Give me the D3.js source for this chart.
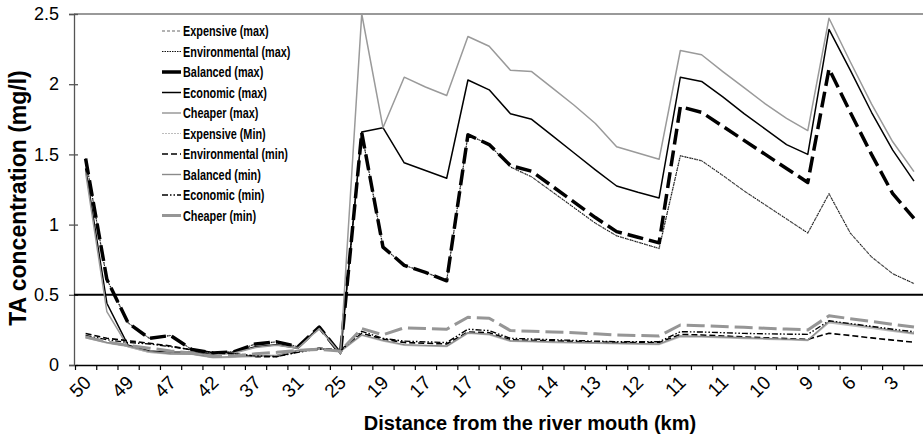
<!DOCTYPE html>
<html>
<head>
<meta charset="utf-8">
<script src="https://cdn.jsdelivr.net/npm/d3@7"></script>
<style>
  body { margin: 0; background: #fff; }
  svg { display: block; font-family: Arial, "Liberation Sans", sans-serif; }
</style>
</head>
<body>
<svg width="923" height="437"></svg>
<script>
// distance labels (only every other one is printed on the axis)
const distances = ['50','50','49','48','47','44','42','40','37','34','31','28','25','22','19','18','17','17','17','16',
                   '16','15','14','14','13','12','12','11','11','11','11','10','10','9','9','7','6','4','3','2'];
const yTicks = [0, 0.5, 1, 1.5, 2, 2.5];
const limit = 0.5;

const seriesNames = ['Expensive (max)', 'Environmental (max)', 'Balanced (max)', 'Economic (max)', 'Cheaper (max)',
                     'Expensive (Min)', 'Environmental (min)', 'Balanced (min)', 'Economic (min)', 'Cheaper (min)'];

const envMax = [1.47,0.61,0.30,0.19,0.21,0.11,0.085,0.095,0.15,0.165,0.13,0.27,0.08,
                1.655,0.84,0.71,0.66,0.60,1.64,1.57,1.41,1.34,1.23,1.12,1.01,0.92,0.875,0.83,
                1.49,1.455,1.35,1.24,1.14,1.04,0.94,1.22,0.94,0.77,0.65,0.58];
const expMax = envMax.slice();
const balMax = [1.47,0.61,0.30,0.19,0.21,0.11,0.085,0.095,0.15,0.165,0.13,0.27,0.08,
                1.655,0.84,0.71,0.66,0.60,1.64,1.57,1.42,1.38,1.27,1.16,1.05,0.95,0.91,0.87,
                1.84,1.80,1.70,1.60,1.50,1.40,1.30,2.11,1.80,1.50,1.22,1.045];
const ecoMax = [1.40,0.44,0.14,0.10,0.09,0.09,0.075,0.09,0.13,0.145,0.12,0.27,0.08,
                1.66,1.69,1.44,1.385,1.33,2.03,1.96,1.79,1.75,1.63,1.51,1.39,1.275,1.23,1.19,
                2.05,2.02,1.91,1.79,1.68,1.57,1.50,2.39,2.10,1.80,1.53,1.31];
const cheMax = [1.37,0.38,0.13,0.09,0.085,0.085,0.07,0.085,0.125,0.14,0.12,0.26,0.08,
                2.50,1.69,2.05,1.98,1.92,2.34,2.27,2.10,2.09,1.97,1.85,1.72,1.555,1.51,1.465,
                2.24,2.21,2.09,1.975,1.86,1.757,1.67,2.47,2.16,1.86,1.59,1.377];
const expMin = [0.195,0.155,0.13,0.09,0.075,0.075,0.05,0.055,0.06,0.065,0.10,0.115,0.095,
                0.21,0.17,0.14,0.135,0.13,0.225,0.215,0.168,0.164,0.16,0.156,0.153,0.15,0.147,0.145,
                0.20,0.198,0.193,0.188,0.183,0.178,0.173,0.30,0.28,0.26,0.24,0.22];
const envMin = [0.225,0.19,0.173,0.155,0.135,0.107,0.088,0.078,0.06,0.06,0.095,0.12,0.107,
                0.225,0.185,0.16,0.155,0.15,0.235,0.23,0.18,0.176,0.172,0.168,0.164,0.16,0.16,0.16,
                0.218,0.214,0.207,0.20,0.194,0.188,0.183,0.226,0.21,0.193,0.177,0.162];
const balMin = [0.20,0.16,0.135,0.095,0.08,0.078,0.055,0.06,0.065,0.07,0.105,0.12,0.10,
                0.215,0.175,0.145,0.14,0.135,0.23,0.22,0.173,0.169,0.165,0.161,0.158,0.155,0.152,0.15,
                0.207,0.204,0.199,0.194,0.189,0.184,0.178,0.31,0.29,0.27,0.247,0.226];
const ecoMin = [0.21,0.18,0.16,0.15,0.13,0.11,0.09,0.08,0.065,0.06,0.09,0.115,0.10,
                0.24,0.19,0.17,0.165,0.16,0.255,0.245,0.19,0.185,0.18,0.175,0.17,0.166,0.166,0.166,
                0.237,0.235,0.23,0.225,0.222,0.22,0.218,0.315,0.295,0.275,0.255,0.237];
const cheMin = [0.20,0.165,0.14,0.12,0.10,0.085,0.06,0.065,0.08,0.09,0.105,0.11,0.10,
                0.26,0.215,0.265,0.26,0.255,0.34,0.333,0.245,0.24,0.235,0.23,0.222,0.214,0.21,0.207,
                0.285,0.28,0.275,0.268,0.262,0.256,0.25,0.35,0.33,0.31,0.29,0.27];

const seriesValues = [expMax, envMax, balMax, ecoMax, cheMax, expMin, envMin, balMin, ecoMin, cheMin];

// line looks: stroke, width, dash in chart, dash in legend
const styles = [
  {c: '#9a9a9a', w: 1.5, d: '3,2', ld: '3,2'},
  {c: '#111',    w: 1,   d: '1.5,1', ld: '1.5,1'},
  {c: '#000',    w: 3.5, d: '16,6', ld: null},
  {c: '#000',    w: 1.5, d: null, ld: null},
  {c: '#9a9a9a', w: 1.5, d: null, ld: null},
  {c: '#bdbdbd', w: 1.2, d: null, ld: '2,1'},
  {c: '#000',    w: 1.6, d: '6,3', ld: '6,3'},
  {c: '#8a8a8a', w: 1.4, d: null, ld: null},
  {c: '#000',    w: 1.4, d: '6,2,1.5,2,1.5,2', ld: '6,2,1.5,2,1.5,2'},
  {c: '#969696', w: 3,   d: '18,6', ld: null}
];

const svg = d3.select('svg');
const W = +svg.attr('width');
const plotL = 75, plotR = 924.6, plotT = 14, plotB = 365;

const idx = d3.range(distances.length);
const x = d3.scalePoint().domain(idx).range([plotL, plotR]).padding(0.5);
const xb = d3.scaleLinear().domain([0, distances.length]).range([plotL, plotR]);
const y = d3.scaleLinear().domain([0, 2.5]).range([plotB, plotT]);

// top border of the plot area
svg.append('line')
    .attr('x1', plotL - 1).attr('x2', W)
    .attr('y1', y(2.5)).attr('y2', y(2.5))
    .attr('stroke', '#777').attr('stroke-width', 1.5);

// y axis
const gy = svg.append('g').attr('transform', `translate(${plotL - 1},0)`)
    .call(d3.axisLeft(y).tickValues(yTicks).tickFormat(d3.format('')).tickSize(5).tickPadding(10));
gy.select('.domain').attr('stroke', '#555').attr('stroke-width', 1.3);
gy.selectAll('.tick line').attr('x2', 4).attr('x1', -5).attr('stroke', '#555').attr('stroke-width', 1.3);
gy.selectAll('.tick text').attr('font-size', 18).attr('fill', '#000').attr('font-family', 'Arial, "Liberation Sans", sans-serif');

// x axis, ticks between categories
const gx = svg.append('g').attr('transform', `translate(0,${plotB})`)
    .call(d3.axisBottom(xb).tickValues(d3.range(0, distances.length + 1)).tickFormat('').tickSize(5).tickSizeOuter(0));
gx.select('.domain').attr('stroke', '#000').attr('stroke-width', 1.5);
gx.selectAll('.tick line').attr('stroke', '#000').attr('stroke-width', 1.2);

svg.append('g').selectAll('text')
  .data(idx.filter(i => i % 2 === 0))
  .join('text')
    .attr('transform', i => `translate(${x(i) + 2},${plotB + 14}) rotate(-45)`)
    .attr('text-anchor', 'end')
    .attr('dy', '0.35em')
    .attr('font-size', 19)
    .text(i => distances[i]);

// 0.5 reference line
svg.append('line')
    .attr('x1', plotL - 1).attr('x2', W)
    .attr('y1', y(limit)).attr('y2', y(limit))
    .attr('stroke', '#000').attr('stroke-width', 2);

// series
const line = d3.line().x((d, i) => x(i)).y(d => y(d));
svg.append('g').selectAll('path')
  .data(seriesValues)
  .join('path')
    .attr('d', d => line(d))
    .attr('fill', 'none')
    .attr('stroke', (d, i) => styles[i].c)
    .attr('stroke-width', (d, i) => styles[i].w)
    .attr('stroke-dasharray', (d, i) => styles[i].d)
    .attr('stroke-linejoin', 'round');

// legend (narrow bold text, squeezed horizontally)
const lg = svg.append('g').attr('transform', 'translate(162,31)');
const rows = lg.selectAll('g').data(seriesNames).join('g')
    .attr('transform', (d, i) => `translate(0,${i * 20.5})`);
rows.append('line')
    .attr('x1', 0).attr('x2', 19)
    .attr('stroke', (d, i) => styles[i].c)
    .attr('stroke-width', (d, i) => styles[i].w)
    .attr('stroke-dasharray', (d, i) => styles[i].ld);
rows.append('text')
    .attr('transform', 'translate(21,0) scale(0.75,1)')
    .attr('dy', '0.35em')
    .attr('font-weight', 'bold')
    .attr('font-size', 14.5)
    .text(d => d);

// axis titles
svg.append('text')
    .attr('x', 530).attr('y', 430)
    .attr('text-anchor', 'middle')
    .attr('font-weight', 'bold').attr('font-size', 20)
    .text('Distance from the river mouth (km)');
svg.append('text')
    .attr('transform', 'translate(26,198) rotate(-90)')
    .attr('text-anchor', 'middle')
    .attr('font-weight', 'bold').attr('font-size', 23)
    .text('TA concentration (mg/l)');
</script>
</body>
</html>
